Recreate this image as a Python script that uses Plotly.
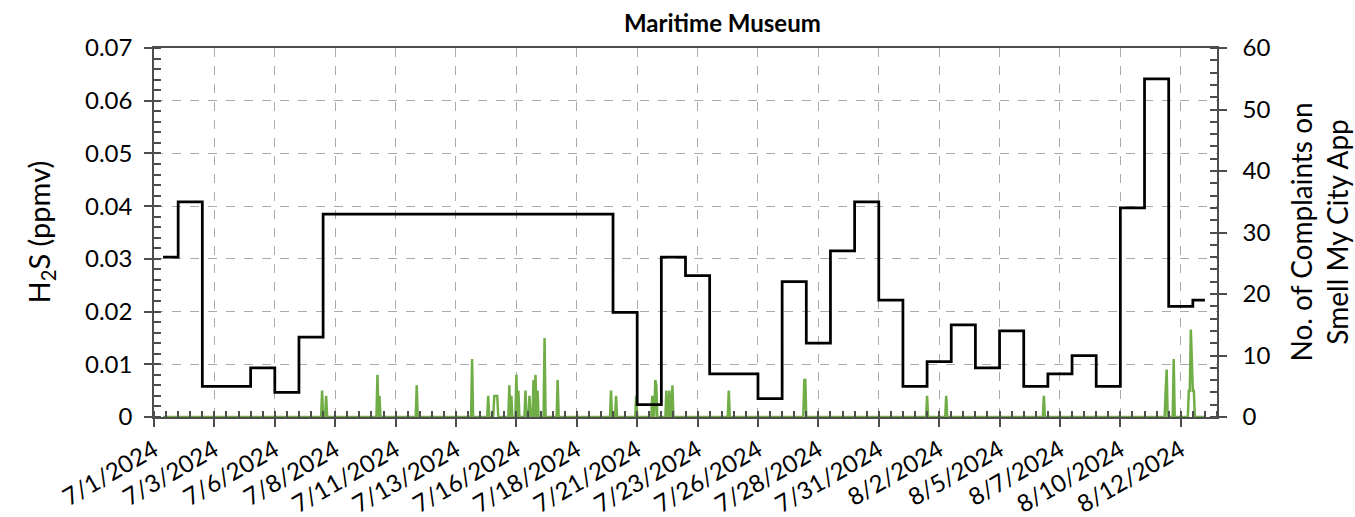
import pandas as pd
import plotly.graph_objects as go

# Daily number of complaints on the Smell My City app (7/1/2024 .. 8/13/2024)
complaint_days = pd.date_range("2024-07-01", "2024-08-13", freq="D")
complaints = [
    26, 35, 5, 5, 8, 4, 13,                                  # 7/1 - 7/7
    33, 33, 33, 33, 33, 33, 33, 33, 33, 33, 33, 33,          # 7/8 - 7/19
    17, 2, 26, 23, 7, 7, 3, 22, 12, 27, 35, 19,              # 7/20 - 7/31
    5, 9, 15, 8, 14, 5, 7, 10, 5, 34, 55, 18, 19,            # 8/1 - 8/13
]
record_start = pd.Timestamp("2024-07-01 09:00")
record_end = pd.Timestamp("2024-08-13 12:00")

# Hourly H2S readings above zero (ppmv); all other hours read 0
h2s_times = [
    "2024-07-07 23:00", "2024-07-08 03:00", "2024-07-10 06:00", "2024-07-10 08:00",
    "2024-07-11 21:00", "2024-07-14 04:00", "2024-07-14 20:00", "2024-07-15 02:00",
    "2024-07-15 03:00", "2024-07-15 04:00", "2024-07-15 05:00", "2024-07-15 17:00",
    "2024-07-15 19:00", "2024-07-16 00:00", "2024-07-16 02:00", "2024-07-16 09:00",
    "2024-07-16 13:00", "2024-07-16 17:00", "2024-07-16 19:00", "2024-07-16 21:00",
    "2024-07-17 04:00", "2024-07-17 17:00", "2024-07-19 22:00", "2024-07-20 03:00",
    "2024-07-20 23:00", "2024-07-21 15:00", "2024-07-21 18:00", "2024-07-21 19:00",
    "2024-07-22 05:00", "2024-07-22 08:00", "2024-07-22 11:00", "2024-07-24 19:00",
    "2024-07-27 22:00", "2024-07-27 23:00", "2024-08-02 00:00", "2024-08-02 19:00",
    "2024-08-06 20:00", "2024-08-11 21:00", "2024-08-11 22:00", "2024-08-12 05:00",
    "2024-08-12 20:00", "2024-08-12 21:00", "2024-08-12 22:00", "2024-08-12 23:00",
    "2024-08-13 00:00", "2024-08-13 01:00",
]
h2s_ppm = [
    0.005, 0.004, 0.008, 0.004,
    0.006, 0.011, 0.004, 0.004,
    0.004, 0.004, 0.004, 0.006,
    0.004, 0.008, 0.005, 0.005,
    0.004, 0.007, 0.008, 0.005,
    0.015, 0.007, 0.005, 0.004,
    0.004, 0.004, 0.007, 0.006,
    0.005, 0.005, 0.006, 0.005,
    0.007, 0.007, 0.004, 0.004,
    0.004, 0.005, 0.009, 0.011,
    0.005, 0.005, 0.0166, 0.012,
    0.005, 0.005,
]

x_tick_labels = [
    "7/1/2024", "7/3/2024", "7/6/2024", "7/8/2024", "7/11/2024", "7/13/2024",
    "7/16/2024", "7/18/2024", "7/21/2024", "7/23/2024", "7/26/2024", "7/28/2024",
    "7/31/2024", "8/2/2024", "8/5/2024", "8/7/2024", "8/10/2024", "8/12/2024",
]
x_tick_step = "60h"      # 2.5 days between labelled ticks

# Hourly H2S series
hours = pd.date_range(record_start, record_end, freq="h")
h2s = pd.Series(0.0, index=hours)
h2s.loc[pd.to_datetime(h2s_times)] = h2s_ppm

# Daily complaint counts as a step series
step_x = [record_start] + list(complaint_days[1:]) + [record_end]
step_y = complaints + [complaints[-1]]

tick_vals = pd.date_range("2024-07-01", periods=len(x_tick_labels), freq=x_tick_step)

FONT = "Lato, 'Open Sans', sans-serif"
AXIS = "#4d4d4d"
GRID = "#ababab"
TICK_SIZE = 24

fig = go.Figure()
fig.add_trace(go.Scatter(
    x=h2s.index, y=h2s.values, mode="lines",
    line=dict(color="#70AD47", width=2.5), yaxis="y", showlegend=False,
))
fig.add_trace(go.Scatter(
    x=step_x, y=step_y, mode="lines", line_shape="hv",
    line=dict(color="#000000", width=2.75), yaxis="y2", showlegend=False,
))

fig.update_layout(
    width=1355, height=517,
    margin=dict(l=154, r=138, t=48, b=100),
    paper_bgcolor="white", plot_bgcolor="white",
    font=dict(family=FONT, size=TICK_SIZE, color="#000000"),
    showlegend=False,
    xaxis=dict(
        type="date", range=["2024-07-01", "2024-08-14"], automargin=False,
        tickmode="array", tickvals=tick_vals, ticktext=x_tick_labels,
        tickangle=-30, tickfont=dict(size=TICK_SIZE),
        ticks="outside", ticklen=8, tickcolor=AXIS, tickwidth=1.5,
        showline=True, linecolor=AXIS, linewidth=1.5, mirror=True,
        showgrid=True, gridcolor=GRID, griddash="dash", gridwidth=1,
        zeroline=False,
        minor=dict(tick0="2024-07-01", dtick=12 * 3600 * 1000,
                   ticks="inside", ticklen=6, tickcolor=AXIS, tickwidth=1.5,
                   showgrid=False),
    ),
    yaxis=dict(
        range=[0, 0.07], dtick=0.01, tickfont=dict(size=TICK_SIZE),
        automargin=False, ticklabelstandoff=7,
        ticks="outside", ticklen=8, tickcolor=AXIS, tickwidth=1.5,
        showline=True, linecolor=AXIS, linewidth=1.5,
        showgrid=True, gridcolor=GRID, griddash="dash", gridwidth=1,
        zeroline=False,
        minor=dict(dtick=0.002, ticks="inside", ticklen=7,
                   tickcolor=AXIS, tickwidth=1.5, showgrid=False),
    ),
    yaxis2=dict(
        overlaying="y", side="right", range=[0, 60], dtick=10,
        tickfont=dict(size=TICK_SIZE), automargin=False, ticklabelstandoff=11,
        ticks="outside", ticklen=8, tickcolor=AXIS, tickwidth=1.5,
        showline=True, linecolor=AXIS, linewidth=1.5,
        showgrid=False, zeroline=False,
        minor=dict(dtick=2, ticks="inside", ticklen=7,
                   tickcolor=AXIS, tickwidth=1.5, showgrid=False),
    ),
)

fig.add_annotation(
    text="<b>Maritime Museum</b>", xref="paper", yref="paper",
    x=0.535, y=1, yshift=26, showarrow=False,
    font=dict(family=FONT, size=24), xanchor="center", yanchor="middle",
)
fig.add_annotation(
    text="H<sub>2</sub>S (ppmv)", xref="paper", yref="paper",
    x=0, y=0.5, xshift=-114, textangle=-90, showarrow=False,
    font=dict(family=FONT, size=29), xanchor="center", yanchor="middle",
)
fig.add_annotation(
    text="No. of Complaints on<br>Smell My City App", xref="paper", yref="paper",
    x=1, y=0.5, xshift=101, textangle=-90, showarrow=False,
    font=dict(family=FONT, size=28), xanchor="center", yanchor="middle",
)

fig.write_html("out.html")
